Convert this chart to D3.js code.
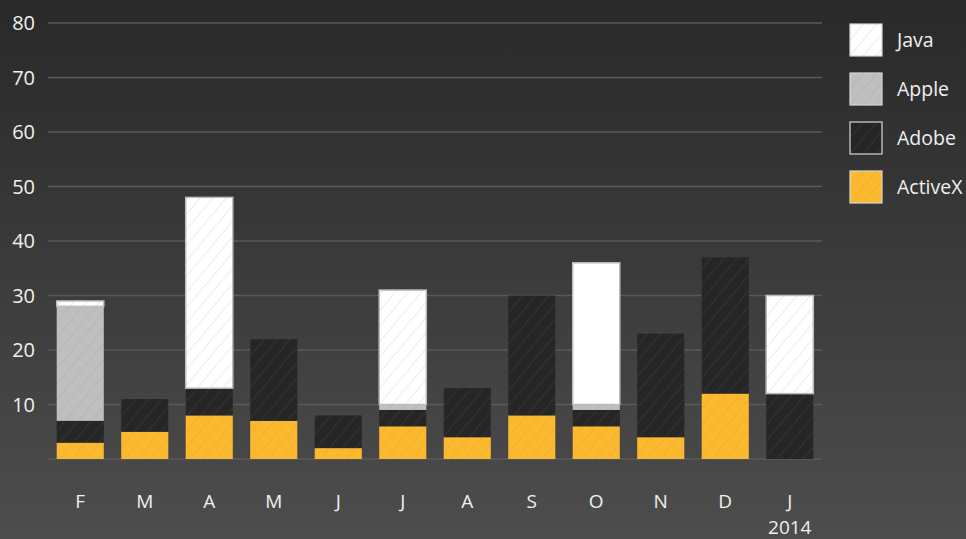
<!DOCTYPE html>
<html><head><meta charset="utf-8">
<script src="https://cdn.jsdelivr.net/npm/d3@7/dist/d3.min.js"></script>
<style>html,body{margin:0;padding:0;background:#333;}svg{display:block;}</style>
</head><body><svg id="c" width="966" height="539"></svg>
<script>
const months = ["F","M","A","M","J","J","A","S","O","N","D","J"];
const yearLabels = ["","","","","","","","","","","","2014"];
const seriesNames = ["ActiveX","Adobe","Apple","Java"];
const activeX = [3,5,8,7,2,6,4,8,6,4,12,0];
const adobe   = [4,6,5,15,6,3,9,22,3,19,25,12];
const apple   = [21,0,0,0,0,1,0,0,1,0,0,0];
const java    = [1,0,35,0,0,21,0,0,26,0,0,18];
const yTicks = [10,20,30,40,50,60,70,80];
const legendOrder = ["Java","Apple","Adobe","ActiveX"];

const colors = {ActiveX:"#fdb92e", Adobe:"#262626", Apple:"#bfbfbf", Java:"#ffffff"};
const strokes = {ActiveX:"none", Adobe:"none", Apple:"none", Java:"#bdbdbd"};
const FONT = "Open Sans, sans-serif";

const svg = d3.select("#c");
const W = 966, H = 539;
const defs = svg.append("defs");
const g = defs.append("linearGradient").attr("id","bg").attr("x1",0).attr("y1",0).attr("x2",0).attr("y2",1);
g.append("stop").attr("offset","0%").attr("stop-color","#292929");
g.append("stop").attr("offset","100%").attr("stop-color","#4d4d4d");
const pat = defs.append("pattern").attr("id","hatch").attr("patternUnits","userSpaceOnUse")
  .attr("width",10).attr("height",10).attr("patternTransform","rotate(40)");
pat.append("line").attr("x1",0).attr("y1",0).attr("x2",0).attr("y2",10)
  .attr("stroke","rgba(128,128,128,0.25)").attr("stroke-width",1.2);

svg.append("rect").attr("width",W).attr("height",H).attr("fill","url(#bg)");

const x = d3.scaleBand().domain(d3.range(months.length)).range([48,822]).paddingInner(0.27).paddingOuter(0.135);
const y = d3.scaleLinear().domain([0,80]).range([459,23]);

// grid
svg.append("g").selectAll("line").data(yTicks.concat([0])).join("line")
  .attr("x1",48).attr("x2",822).attr("y1",d=>y(d)).attr("y2",d=>y(d))
  .attr("stroke","#5a5a5a").attr("stroke-width",1.5);

// y labels
svg.append("g").selectAll("text").data(yTicks).join("text")
  .attr("x",35).attr("y",d=>y(d)).attr("dy","0.36em").attr("text-anchor","end")
  .attr("fill","#f0f0f0").attr("font-family",FONT).attr("font-size",20)
  .text(d=>d);

// stacked data
const table = months.map((m,i)=>({i, ActiveX:activeX[i], Adobe:adobe[i], Apple:apple[i], Java:java[i]}));
const stack = d3.stack().keys(seriesNames)(table);

const layers = svg.append("g").selectAll("g").data(stack).join("g");
layers.each(function(s){
  const key = s.key;
  const sel = d3.select(this).selectAll("g").data(s.filter(d=>d[1]-d[0]>0)).join("g");
  sel.append("rect")
    .attr("x",d=>x(d.data.i)).attr("width",x.bandwidth())
    .attr("y",d=>y(d[1])).attr("height",d=>y(d[0])-y(d[1]))
    .attr("fill",colors[key]).attr("stroke",strokes[key]).attr("stroke-width",1.5);
  sel.filter(d=>!(key==="Java" && d.data.i===8)).append("rect")
    .attr("x",d=>x(d.data.i)).attr("width",x.bandwidth())
    .attr("y",d=>y(d[1])).attr("height",d=>y(d[0])-y(d[1]))
    .attr("fill","url(#hatch)");
});

// x labels
const xl = svg.append("g").attr("font-family",FONT).attr("fill","#f0f0f0").attr("font-size",19).attr("text-anchor","middle");
xl.selectAll("text.m").data(months).join("text").attr("class","m")
  .attr("x",(d,i)=>x(i)+x.bandwidth()/2).attr("y",508).text(d=>d);
xl.selectAll("text.yr").data(yearLabels).join("text").attr("class","yr")
  .attr("x",(d,i)=>x(i)+x.bandwidth()/2).attr("y",533.5).text(d=>d);

// legend
const lg = svg.append("g").selectAll("g").data(legendOrder).join("g")
  .attr("transform",(d,i)=>`translate(850,${24+i*49})`);
lg.append("rect").attr("width",32).attr("height",32).attr("fill",d=>colors[d])
  .attr("stroke","#d8d8d8").attr("stroke-width",1.2);
lg.append("rect").attr("width",32).attr("height",32).attr("fill","url(#hatch)");
lg.append("text").attr("x",47).attr("y",16).attr("dy","0.36em")
  .attr("fill","#f0f0f0").attr("font-family",FONT).attr("font-size",19.5)
  .text(d=>d);
</script></body></html>
